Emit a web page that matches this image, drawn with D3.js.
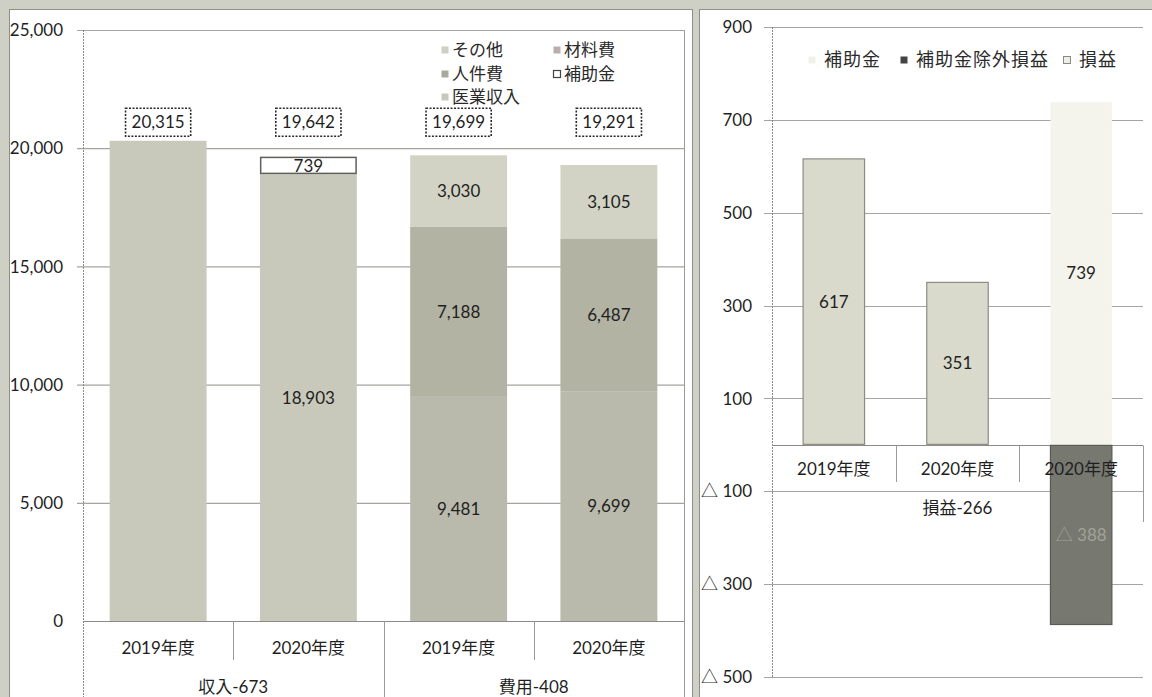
<!DOCTYPE html>
<html>
<head>
<meta charset="utf-8">
<script src="https://cdn.jsdelivr.net/npm/d3@7"></script>
<style>
  html, body { margin: 0; padding: 0; background: #cfd0c5; }
  svg { display: block; }
</style>
</head>
<body>
<svg id="chart" width="1152" height="697"></svg>
<script>
// ---- 収支（左）: 収入 / 費用 ----
const groupLabels = ["収入-673", "費用-408"];
const yearLabels = ["2019年度", "2020年度", "2019年度", "2020年度"];
const medicalRevenue = [20315, 18903, 0, 0];   // 医業収入
const subsidy        = [0, 739, 0, 0];         // 補助金
const personnelCost  = [0, 0, 9481, 9699];     // 人件費
const materialCost   = [0, 0, 7188, 6487];     // 材料費
const otherCost      = [0, 0, 3030, 3105];     // その他
const totals         = [20315, 19642, 19699, 19291];
const leftTicks = [0, 5000, 10000, 15000, 20000, 25000];

// ---- 損益（右） ----
const plYears = ["2019年度", "2020年度", "2020年度"];
const plGroupLabel = "損益-266";
const plProfit      = [617, 351, 0];   // 損益
const plSubsidy     = [0, 0, 739];     // 補助金
const plExSubsidy   = [0, 0, -388];    // 補助金除外損益
const rightTicks = [-500, -300, -100, 100, 300, 500, 700, 900];

const NUM = "Lato, 'Noto Sans CJK JP', sans-serif";
const JP = "'Noto Sans CJK JP', sans-serif";
const TXT = "#1f1f1f";
const GRID = "#a4a4a0";
const FS = 17;

const svg = d3.select("#chart");

// panels
svg.append("rect").attr("x", 9.5).attr("y", 9.5).attr("width", 683).attr("height", 700)
  .attr("fill", "#fff").attr("stroke", "#8e8e88");
svg.append("rect").attr("x", 699.5).attr("y", 9.5).attr("width", 460).attr("height", 700)
  .attr("fill", "#fff").attr("stroke", "#8e8e88");

const fmt = d3.format(",");

// =================== 左チャート ===================
const L = svg.append("g");
const xL = d3.scaleBand().domain(d3.range(4)).range([83, 684])
  .paddingInner(0.355).paddingOuter(0.1775);
const yL = d3.scaleLinear().domain([0, 25000]).range([621, 30]);

// gridlines + tick labels
leftTicks.forEach(t => {
  if (t > 0) {
    L.append("line").attr("x1", 77).attr("x2", 684)
      .attr("y1", yL(t) + 0.5).attr("y2", yL(t) + 0.5)
      .attr("stroke", GRID).attr("stroke-width", 1.2);
  }
  L.append("text").attr("x", 63).attr("y", yL(t)).attr("dy", "0.36em")
    .attr("text-anchor", "end").attr("font-family", NUM).attr("font-size", FS)
    .attr("fill", TXT).text(fmt(t));
});

// plot border (right side) and value axis
L.append("line").attr("x1", 684.5).attr("x2", 684.5).attr("y1", 30).attr("y2", 697)
  .attr("stroke", "#9a9a96");
L.append("line").attr("x1", 83.5).attr("x2", 83.5).attr("y1", 30).attr("y2", 697)
  .attr("stroke", "#8a8a86").attr("stroke-dasharray", "2,1");

const leftKeys = ["医業収入", "補助金", "人件費", "材料費", "その他"];
const leftColors = {
  "医業収入": "#c8c9ba", "補助金": "#ffffff", "人件費": "#b9baab",
  "材料費": "#b2b3a3", "その他": "#d2d3c4"
};
const leftRows = d3.range(4).map(i => ({
  i,
  "医業収入": medicalRevenue[i], "補助金": subsidy[i], "人件費": personnelCost[i],
  "材料費": materialCost[i], "その他": otherCost[i]
}));
const leftStack = d3.stack().keys(leftKeys)(leftRows);

leftStack.forEach(s => {
  const g = L.append("g");
  s.forEach(d => {
    const v = d[1] - d[0];
    if (v <= 0) return;
    const isSub = s.key === "補助金";
    g.append("rect")
      .attr("x", xL(d.data.i) + (isSub ? 0.75 : 0))
      .attr("y", yL(d[1]) + (isSub ? 0.75 : 0))
      .attr("width", xL.bandwidth() - (isSub ? 1.5 : 0))
      .attr("height", yL(d[0]) - yL(d[1]) - (isSub ? 1.5 : 0))
      .attr("fill", leftColors[s.key])
      .attr("stroke", isSub ? "#5e5e5a" : "none")
      .attr("stroke-width", isSub ? 1.5 : 0);
  });
});

// segment labels (only on bars with more than one segment)
leftStack.forEach(s => {
  s.forEach(d => {
    const v = d[1] - d[0];
    if (v <= 0) return;
    const nSeg = leftKeys.filter(k => d.data[k] > 0).length;
    if (nSeg < 2) return;
    L.append("text")
      .attr("x", xL(d.data.i) + xL.bandwidth() / 2)
      .attr("y", (yL(d[0]) + yL(d[1])) / 2).attr("dy", "0.36em")
      .attr("text-anchor", "middle").attr("font-family", NUM).attr("font-size", FS)
      .attr("fill", TXT).text(fmt(v));
  });
});

// total labels in dotted boxes
totals.forEach((t, i) => {
  const cx = xL(i) + xL.bandwidth() / 2;
  const cy = yL(21100);
  const tx = L.append("text").attr("x", cx).attr("y", cy).attr("dy", "0.36em")
    .attr("text-anchor", "middle").attr("font-family", NUM).attr("font-size", FS)
    .attr("fill", TXT).text(fmt(t));
  const w = tx.node().getComputedTextLength() + 12;
  L.insert("rect", "text").attr("x", cx - w / 2).attr("y", cy - 14)
    .attr("width", w).attr("height", 28)
    .attr("fill", "#fff").attr("stroke", "#2a2a2a").attr("stroke-width", 1.6)
    .attr("stroke-dasharray", "2,1.5");
});

// category axis
L.append("line").attr("x1", 83).attr("x2", 684).attr("y1", 621.5).attr("y2", 621.5)
  .attr("stroke", "#8a8a86").attr("stroke-width", 1.2);
[1, 3].forEach(i => {
  const x = Math.round(xL(i) - xL.step() * xL.paddingInner() / 2) + 0.5;
  L.append("line").attr("x1", x).attr("x2", x).attr("y1", 621).attr("y2", 660)
    .attr("stroke", "#9a9a96");
});
{
  const x = Math.round(xL(2) - xL.step() * xL.paddingInner() / 2) + 0.5;
  L.append("line").attr("x1", x).attr("x2", x).attr("y1", 621).attr("y2", 697)
    .attr("stroke", "#9a9a96");
}
yearLabels.forEach((lab, i) => {
  L.append("text").attr("x", xL(i) + xL.bandwidth() / 2).attr("y", 648).attr("dy", "0.36em")
    .attr("text-anchor", "middle").attr("font-family", NUM).attr("font-size", FS)
    .attr("fill", TXT).text(lab);
});
groupLabels.forEach((lab, gi) => {
  const x0 = xL(gi * 2) + xL.bandwidth() / 2, x1 = xL(gi * 2 + 1) + xL.bandwidth() / 2;
  L.append("text").attr("x", (x0 + x1) / 2).attr("y", 687).attr("dy", "0.36em")
    .attr("text-anchor", "middle").attr("font-family", NUM).attr("font-size", FS)
    .attr("fill", TXT).text(lab);
});

// legend
const leftLegend = [
  { key: "その他", x: 441, y: 50 }, { key: "材料費", x: 553, y: 50 },
  { key: "人件費", x: 441, y: 74 }, { key: "補助金", x: 553, y: 74 },
  { key: "医業収入", x: 441, y: 97 }
];
const legendSwatch = {
  "その他": "#cfd0c4", "材料費": "#b9adad", "人件費": "#a9aa9e",
  "補助金": "#ffffff", "医業収入": "#c7c8bc"
};
leftLegend.forEach(d => {
  L.append("rect").attr("x", d.x + 0.5).attr("y", d.y - 3.5).attr("width", 7).attr("height", 7)
    .attr("fill", legendSwatch[d.key])
    .attr("stroke", d.key === "補助金" ? "#444" : "none").attr("stroke-width", 1.2);
  L.append("text").attr("x", d.x + 11).attr("y", d.y).attr("dy", "0.36em")
    .attr("font-family", JP).attr("font-size", 17).attr("fill", "#2a2a2a").text(d.key);
});

// =================== 右チャート ===================
const R = svg.append("g");
const xR = d3.scaleBand().domain(d3.range(3)).range([772, 1143])
  .paddingInner(0.495).paddingOuter(0.2475);
const yR = d3.scaleLinear().domain([-500, 900]).range([677, 27]);
const tri = v => v < 0 ? "△ " + fmt(-v) : fmt(v);

rightTicks.forEach(t => {
  R.append("line").attr("x1", 764).attr("x2", 1143)
    .attr("y1", Math.round(yR(t)) + 0.5).attr("y2", Math.round(yR(t)) + 0.5)
    .attr("stroke", GRID).attr("stroke-width", 1.2);
  R.append("text").attr("x", 752).attr("y", yR(t)).attr("dy", "0.36em")
    .attr("text-anchor", "end").attr("font-family", NUM).attr("font-size", FS)
    .attr("fill", TXT).text(tri(t));
});
R.append("line").attr("x1", 772.5).attr("x2", 772.5).attr("y1", 27).attr("y2", 677)
  .attr("stroke", "#8a8a86").attr("stroke-dasharray", "2,1");

// category axis (drawn under the bars)
const y0 = Math.round(yR(0)) + 0.5;
R.append("line").attr("x1", 772).attr("x2", 1143).attr("y1", y0).attr("y2", y0)
  .attr("stroke", "#8a8a86").attr("stroke-width", 1.2);
[1, 2].forEach(i => {
  const x = Math.round(xR(i) - xR.step() * xR.paddingInner() / 2) + 0.5;
  R.append("line").attr("x1", x).attr("x2", x).attr("y1", y0).attr("y2", 482)
    .attr("stroke", "#9a9a96");
});
R.append("line").attr("x1", 1143.5).attr("x2", 1143.5).attr("y1", y0).attr("y2", 522)
  .attr("stroke", "#9a9a96");

const plSeries = [
  { key: "損益", values: plProfit, fill: "#d9dacb", stroke: "#8c8c84" },
  { key: "補助金", values: plSubsidy, fill: "#f4f4ec", stroke: "none" },
  { key: "補助金除外損益", values: plExSubsidy, fill: "#777870", stroke: "#5a5a55" }
];
plSeries.forEach(s => {
  s.values.forEach((v, i) => {
    if (!v) return;
    const top = yR(Math.max(v, 0)), bot = yR(Math.min(v, 0));
    R.append("rect").attr("x", xR(i) + 0.5).attr("y", top + 0.5)
      .attr("width", xR.bandwidth() - 1).attr("height", bot - top - 1)
      .attr("fill", s.fill).attr("stroke", s.stroke).attr("stroke-width", 1.2);
  });
});

plYears.forEach((lab, i) => {
  R.append("text").attr("x", xR(i) + xR.bandwidth() / 2).attr("y", 469).attr("dy", "0.36em")
    .attr("text-anchor", "middle").attr("font-family", NUM).attr("font-size", FS)
    .attr("fill", TXT).text(lab);
});
R.append("text").attr("x", (772 + 1143) / 2).attr("y", 508).attr("dy", "0.36em")
  .attr("text-anchor", "middle").attr("font-family", NUM).attr("font-size", FS)
  .attr("fill", TXT).text(plGroupLabel);

plSeries.forEach(s => {
  s.values.forEach((v, i) => {
    if (!v) return;
    R.append("text").attr("x", xR(i) + xR.bandwidth() / 2)
      .attr("y", (yR(0) + yR(v)) / 2).attr("dy", "0.36em")
      .attr("text-anchor", "middle").attr("font-family", NUM).attr("font-size", FS)
      .attr("fill", v < 0 ? "#a2a298" : TXT).text(tri(v));
  });
});

// legend
const rightLegend = [
  { key: "補助金", x: 808, fill: "#f1f1ea", stroke: "none" },
  { key: "補助金除外損益", x: 900, fill: "#444", stroke: "none" },
  { key: "損益", x: 1063, fill: "#eeeee6", stroke: "#888" }
];
rightLegend.forEach(d => {
  R.append("rect").attr("x", d.x + 0.5).attr("y", 56.5).attr("width", 7).attr("height", 7)
    .attr("fill", d.fill).attr("stroke", d.stroke);
  R.append("text").attr("x", d.x + 16).attr("y", 60).attr("dy", "0.36em")
    .attr("font-family", JP).attr("font-size", 18).attr("letter-spacing", 1)
    .attr("fill", "#2a2a2a").text(d.key);
});
</script>
</body>
</html>
